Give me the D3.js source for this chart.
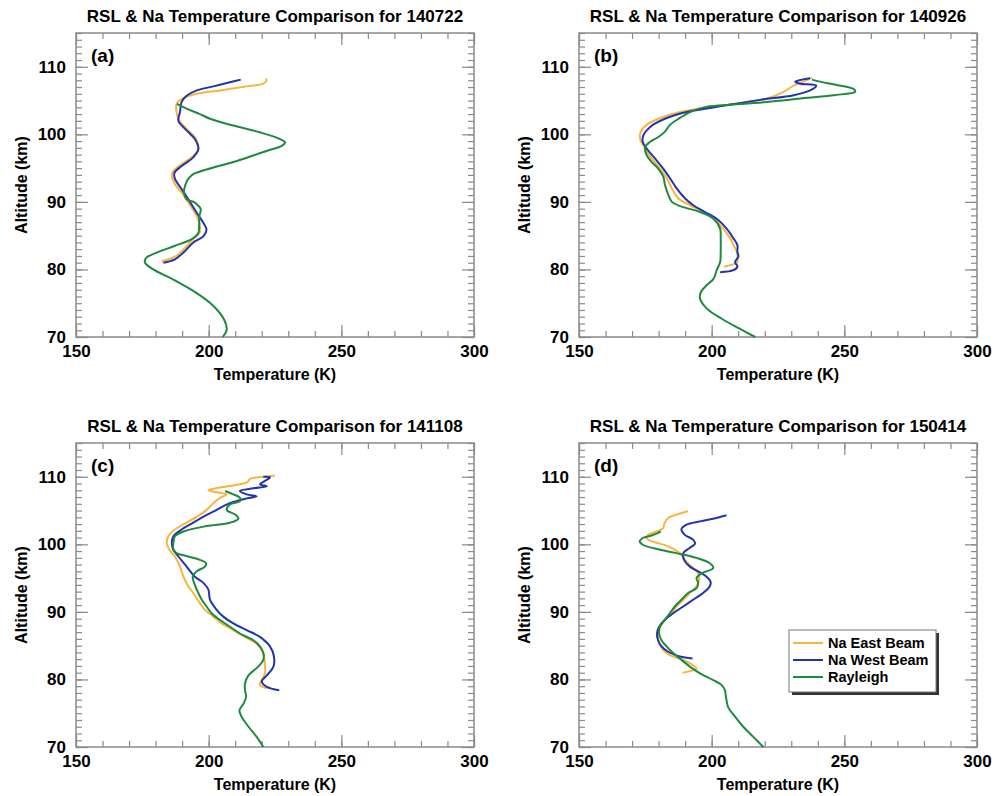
<!DOCTYPE html>
<html>
<head>
<meta charset="utf-8">
<script src="https://cdn.jsdelivr.net/npm/d3@7"></script>
<style>
  body { margin: 0; background: #fff; }
  svg { display: block; font-family: "Liberation Sans", Arial, Helvetica, sans-serif; font-weight: bold; }
</style>
</head>
<body>
<div id="chart"></div>
<script>
// temperature (K), altitude (km) pairs traced along each profile
var eastA = [[221.6,108.3],[221.8,108.0],[220.6,107.5],[214.3,107.1],[204.3,106.5],[195.5,106.0],[189.8,105.2],[187.9,104.5],[187.9,103.3],[188.9,102.0],[191.7,100.8],[195.2,99.3],[196.1,97.8],[193.6,96.6],[189.8,95.6],[186.7,94.6],[186.1,93.9],[187.3,92.6],[189.8,91.4],[192.3,89.9],[194.8,88.4],[196.5,86.9],[196.5,85.4],[194.2,84.5],[191.1,83.2],[187.9,82.0],[184.8,81.5],[182.3,81.2]];
var westA = [[212.1,108.1],[208.0,107.7],[201.8,107.1],[195.5,106.5],[191.7,105.7],[189.8,104.8],[189.2,103.3],[188.6,102.0],[191.1,100.8],[194.8,99.3],[196.1,97.8],[194.2,96.6],[189.8,95.3],[187.1,94.3],[187.3,93.4],[189.8,91.9],[192.3,90.4],[195.5,88.4],[198.0,86.9],[199.2,85.9],[198.0,84.9],[194.2,84.0],[190.5,82.5],[187.3,81.5],[182.9,81.0]];
var raylA = [[188.0,104.5],[191.7,103.8],[196.7,103.0],[200.5,102.3],[209.3,101.3],[219.3,100.3],[226.9,99.3],[228.8,98.8],[227.5,98.3],[221.5,97.5],[217.0,96.9],[209.3,95.9],[201.8,95.1],[194.2,94.1],[192.3,93.4],[191.1,92.4],[190.7,91.4],[191.7,90.4],[194.8,89.9],[197.0,88.9],[196.5,87.9],[196.4,86.4],[196.1,85.4],[193.6,84.5],[187.3,83.5],[180.4,82.5],[176.4,81.7],[176.0,81.0],[179.1,80.0],[186.7,78.5],[195.5,76.5],[201.8,74.6],[205.8,72.6],[206.8,71.1],[205.3,70.0]];

var eastB = [[204.7,80.4],[209.7,81.1],[209.7,81.6],[209.5,82.6],[208.2,83.6],[207.0,84.6],[204.4,86.0],[200.7,87.5],[196.9,88.5],[191.9,89.5],[187.5,90.5],[185.0,92.0],[183.1,93.5],[180.6,94.9],[177.4,96.4],[174.9,97.9],[173.0,99.4],[173.3,100.4],[175.5,101.4],[179.9,102.3],[188.1,103.3],[200.7,104.1],[210.7,104.6],[220.8,105.3],[227.1,106.3],[230.9,107.2],[234.6,107.8],[237.8,108.4]];
var westB = [[203.2,79.6],[208.2,79.9],[209.7,80.4],[208.8,81.1],[210.1,81.9],[209.7,82.6],[209.7,83.6],[208.2,84.6],[205.7,86.0],[201.9,87.5],[197.5,88.5],[193.1,89.5],[190.0,90.5],[186.8,92.0],[184.3,93.5],[181.8,94.9],[178.7,96.4],[175.5,97.9],[174.0,98.9],[174.3,99.9],[176.8,101.1],[182.4,102.3],[190.6,103.3],[205.7,104.3],[218.3,105.1],[230.9,105.8],[237.1,106.5],[239.4,107.2],[233.4,107.5],[231.5,107.8],[234.0,108.1],[237.1,108.3]];
var raylB = [[237.8,108.1],[240.9,107.8],[247.2,107.3],[253.5,106.7],[254.1,106.3],[245.9,105.8],[233.4,105.3],[220.8,104.8],[208.2,104.4],[198.2,104.1],[191.9,103.3],[187.5,102.3],[184.3,101.4],[182.4,100.4],[179.9,99.6],[176.8,98.9],[174.9,98.1],[175.5,96.9],[177.4,95.9],[179.9,94.9],[181.8,93.7],[182.4,92.5],[183.7,91.0],[185.0,90.0],[188.7,89.3],[195.6,88.5],[200.7,87.5],[203.2,86.0],[203.4,84.6],[203.4,82.6],[203.2,81.1],[201.9,79.9],[200.7,78.6],[198.2,77.7],[196.0,76.7],[195.6,75.7],[198.2,74.2],[203.8,72.7],[210.7,71.2],[216.4,70.0]];

var eastC = [[221.9,78.7],[219.3,79.2],[220.0,79.9],[221.2,80.9],[221.2,82.4],[220.6,83.9],[218.1,85.3],[213.7,86.3],[209.3,87.3],[204.9,88.3],[201.8,89.3],[198.6,90.3],[196.7,91.3],[194.2,92.8],[192.3,93.8],[190.5,95.2],[189.2,96.7],[187.3,98.2],[185.2,99.2],[184.2,100.2],[184.8,101.2],[187.3,102.2],[191.7,103.2],[196.1,104.2],[199.2,105.1],[201.8,106.1],[204.3,106.9],[206.8,107.4],[203.0,107.7],[199.9,108.0],[204.3,108.4],[211.8,108.9],[214.6,109.2],[215.6,109.7],[220.6,110.0],[225.0,110.2]];
var westC = [[226.6,78.4],[221.9,78.9],[220.0,79.7],[221.9,80.6],[224.4,81.9],[224.6,83.4],[223.1,84.9],[219.3,86.3],[214.3,87.3],[209.3,88.3],[205.5,89.3],[203.0,90.3],[200.5,91.8],[199.9,93.3],[198.0,94.3],[194.8,95.2],[191.7,96.7],[188.6,98.2],[186.7,99.2],[186.1,100.2],[186.7,101.2],[189.8,102.2],[194.2,103.2],[198.6,104.2],[203.0,105.1],[208.0,106.1],[214.3,106.8],[218.1,107.1],[214.3,107.4],[211.8,107.9],[216.8,108.3],[221.9,108.6],[219.3,108.9],[221.2,109.4],[223.1,109.9],[220.6,110.0]];
var raylC = [[206.2,107.9],[209.3,107.4],[211.8,106.9],[211.8,106.4],[208.0,105.9],[206.8,105.1],[210.0,104.4],[211.2,103.8],[208.0,103.2],[199.2,102.7],[190.5,101.9],[187.3,101.2],[186.7,100.2],[186.7,99.2],[187.9,98.7],[192.3,98.2],[196.7,97.7],[199.0,97.2],[198.6,96.7],[195.5,96.0],[194.0,95.2],[194.8,94.0],[196.1,92.8],[197.4,91.8],[199.2,90.8],[201.1,89.8],[204.3,88.8],[208.0,87.8],[211.8,86.8],[216.8,85.8],[219.3,84.9],[220.6,83.9],[220.6,82.9],[218.7,81.9],[215.0,80.6],[213.7,79.4],[213.7,78.4],[214.1,77.4],[213.1,76.4],[211.6,75.4],[212.4,74.5],[215.0,73.0],[218.1,71.5],[220.6,70.0]];

var eastD = [[189.0,81.0],[192.4,81.3],[194.3,81.6],[193.0,82.1],[189.3,82.9],[184.2,83.6],[181.7,84.4],[180.2,85.3],[179.8,86.8],[180.5,87.8],[182.3,88.8],[184.9,89.8],[186.7,90.8],[189.3,91.8],[191.8,92.8],[194.3,93.8],[195.3,94.8],[194.9,95.7],[192.4,96.7],[189.9,97.7],[188.0,98.7],[183.6,99.7],[177.9,100.4],[175.4,100.9],[176.0,101.4],[179.2,101.9],[181.7,102.4],[182.3,103.2],[183.6,103.9],[186.7,104.4],[191.1,104.9]];
var westD = [[192.8,83.1],[188.0,83.4],[183.6,84.1],[181.1,84.9],[179.8,85.8],[179.4,86.8],[180.2,87.8],[182.3,88.8],[185.5,89.8],[189.3,90.8],[193.0,91.8],[196.8,92.8],[199.3,93.8],[199.6,94.5],[198.1,95.2],[194.9,96.0],[191.8,96.7],[189.6,97.7],[189.3,98.7],[191.8,99.5],[193.7,100.1],[193.0,100.7],[189.9,101.4],[188.6,102.2],[190.5,102.9],[195.6,103.4],[201.8,103.9],[205.6,104.3]];
var raylD = [[180.8,101.9],[179.8,101.7],[177.3,101.3],[173.9,100.9],[172.9,100.4],[174.2,99.9],[180.5,99.2],[186.7,98.7],[194.3,98.0],[199.3,97.2],[200.6,96.5],[196.2,95.7],[194.3,95.0],[194.9,94.3],[194.3,93.5],[191.1,92.8],[188.6,91.8],[186.1,90.8],[184.2,89.8],[182.3,88.8],[180.5,87.8],[180.2,86.8],[181.1,85.8],[183.0,84.9],[185.5,83.9],[188.6,82.9],[191.8,81.9],[195.6,80.9],[200.6,79.9],[203.7,79.2],[205.0,78.4],[205.4,77.4],[206.2,75.9],[208.8,74.5],[211.9,73.0],[215.7,71.5],[219.5,70.0]];

var panelLabels = ['(a)', '(b)', '(c)', '(d)'];
var panelDates = ['140722', '140926', '141108', '150414'];
var seriesNames = ['Na East Beam', 'Na West Beam', 'Rayleigh'];
var tempTicks = [150, 200, 250, 300];
var altTicks = [70, 80, 90, 100, 110];

var colors = ['#f9b43c', '#2233b0', '#1d8a3e'];
var frameColor = '#8a8a8a';

var panels = [
  {left: 76,  top: 33,  series: [eastA, westA, raylA]},
  {left: 579, top: 33,  series: [eastB, westB, raylB]},
  {left: 76,  top: 443, series: [eastC, westC, raylC]},
  {left: 579, top: 443, series: [eastD, westD, raylD]}
];
var pw = 398, ph = 304;

var svg = d3.select('#chart').append('svg')
  .attr('width', 1003)
  .attr('height', 796);

panels.forEach(function (p, i) {
  var x = d3.scaleLinear().domain([150, 300]).range([0, pw]);
  var y = d3.scaleLinear().domain([70, 115]).range([ph, 0]);
  var g = svg.append('g').attr('transform', 'translate(' + p.left + ',' + p.top + ')');

  // minor ticks, all four sides, pointing inward
  var minorX = d3.range(150, 301, 10);
  var minorY = d3.range(70, 116, 1);
  g.append('g').attr('class', 'ax').attr('transform', 'translate(0,' + ph + ')')
    .call(d3.axisBottom(x).tickValues(minorX).tickSize(-6).tickFormat(''));
  g.append('g').attr('class', 'ax')
    .call(d3.axisTop(x).tickValues(minorX).tickSize(-6).tickFormat(''));
  g.append('g').attr('class', 'ax')
    .call(d3.axisLeft(y).tickValues(minorY).tickSize(-6).tickFormat(''));
  g.append('g').attr('class', 'ax').attr('transform', 'translate(' + pw + ',0)')
    .call(d3.axisRight(y).tickValues(minorY).tickSize(-6).tickFormat(''));

  // major ticks
  g.append('g').attr('class', 'ax lab').attr('transform', 'translate(0,' + ph + ')')
    .call(d3.axisBottom(x).tickValues(tempTicks).tickSize(-12).tickPadding(8).tickFormat(d3.format('d')));
  g.append('g').attr('class', 'ax')
    .call(d3.axisTop(x).tickValues(tempTicks).tickSize(-12).tickFormat(''));
  g.append('g').attr('class', 'ax lab')
    .call(d3.axisLeft(y).tickValues(altTicks).tickSize(-12).tickPadding(10).tickFormat(d3.format('d')));
  g.append('g').attr('class', 'ax').attr('transform', 'translate(' + pw + ',0)')
    .call(d3.axisRight(y).tickValues(altTicks).tickSize(-12).tickFormat(''));

  g.selectAll('.ax path').remove();
  g.selectAll('.ax line').attr('stroke', frameColor).attr('stroke-width', 1.2);
  g.selectAll('.lab text')
    .attr('fill', '#000')
    .style('font-size', '17px')
    .style('font-weight', 'bold');

  g.append('rect')
    .attr('width', pw).attr('height', ph)
    .attr('fill', 'none')
    .attr('stroke', frameColor)
    .attr('stroke-width', 1.5);

  var line = d3.line()
    .x(function (d) { return x(d[0]); })
    .y(function (d) { return y(d[1]); })
    .curve(d3.curveCatmullRom.alpha(0.5));

  p.series.forEach(function (s, k) {
    g.append('path')
      .datum(s)
      .attr('d', line)
      .attr('fill', 'none')
      .attr('stroke', colors[k])
      .attr('stroke-width', 2)
      .attr('stroke-linejoin', 'round');
  });

  g.append('text')
    .attr('x', pw / 2).attr('y', -11)
    .attr('text-anchor', 'middle')
    .style('font-size', '17px')
    .text('RSL & Na Temperature Comparison for ' + panelDates[i]);

  g.append('text')
    .attr('x', 15).attr('y', 29)
    .style('font-size', '19px')
    .text(panelLabels[i]);

  g.append('text')
    .attr('x', pw / 2).attr('y', ph + 43)
    .attr('text-anchor', 'middle')
    .style('font-size', '16px')
    .text('Temperature (K)');

  g.append('text')
    .attr('transform', 'translate(-49,' + (ph / 2) + ') rotate(-90)')
    .attr('text-anchor', 'middle')
    .style('font-size', '16px')
    .text('Altitude (km)');
});

// legend in panel (d)
var leg = svg.append('g').attr('transform', 'translate(789,630)');
leg.append('rect')
  .attr('x', 3).attr('y', 3).attr('width', 147).attr('height', 62)
  .attr('fill', '#333');
leg.append('rect')
  .attr('width', 147).attr('height', 62)
  .attr('fill', '#fff')
  .attr('stroke', '#777')
  .attr('stroke-width', 1);
seriesNames.forEach(function (name, k) {
  var yy = 13 + k * 17;
  leg.append('line')
    .attr('x1', 4).attr('x2', 34)
    .attr('y1', yy).attr('y2', yy)
    .attr('stroke', colors[k])
    .attr('stroke-width', 2);
  leg.append('text')
    .attr('x', 39).attr('y', yy + 5)
    .style('font-size', '14.5px')
    .text(name);
});
</script>
</body>
</html>
